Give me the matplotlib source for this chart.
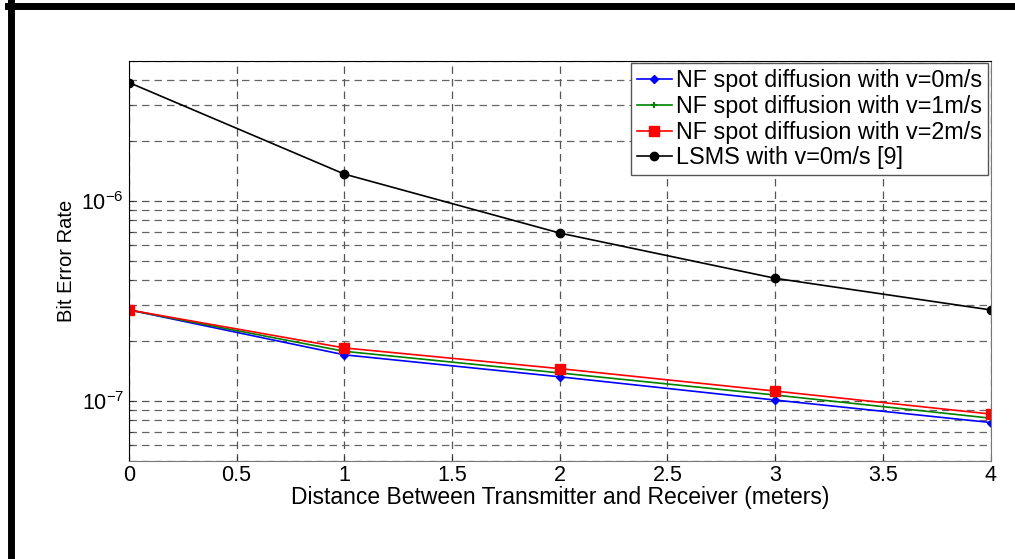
import numpy as np
import matplotlib.pyplot as plt
from matplotlib.lines import Line2D
from matplotlib.ticker import LogLocator, NullFormatter

plt.rcParams['font.family'] = ['Liberation Sans', 'DejaVu Sans']
plt.rcParams['axes.unicode_minus'] = False

# distance (meters)
distance = [0, 1, 2, 3, 4]

# bit error rates
ber_v0 = [2.85e-7, 1.70e-7, 1.32e-7, 1.01e-7, 7.8e-8]
ber_v1 = [2.85e-7, 1.77e-7, 1.38e-7, 1.07e-7, 8.2e-8]
ber_v2 = [2.85e-7, 1.84e-7, 1.45e-7, 1.12e-7, 8.6e-8]
ber_lsms = [3.9e-6, 1.36e-6, 6.9e-7, 4.1e-7, 2.85e-7]

labels = ['NF spot diffusion with v=0m/s',
          'NF spot diffusion with v=1m/s',
          'NF spot diffusion with v=2m/s',
          'LSMS with v=0m/s [9]']

fig = plt.figure(figsize=(10.15, 5.59), dpi=100)
ax = fig.add_axes([0.127, 0.175, 0.849, 0.716])

ax.semilogy(distance, ber_v0, color='#0000ff', marker='D', markersize=4, lw=1.2, label=labels[0])
ax.semilogy(distance, ber_v1, color='#008000', marker='+', markersize=5, mew=1.5, lw=1.2, label=labels[1])
ax.semilogy(distance, ber_v2, color='#ff0000', marker='s', markersize=6.5, lw=1.2, label=labels[2])
ax.semilogy(distance, ber_lsms, color='black', marker='o', markersize=6, lw=1.2, label=labels[3])

ax.set_xlim(0, 4)
ax.set_ylim(5e-8, 5e-6)
ax.set_xticks(np.arange(0, 4.01, 0.5))
ax.set_xticklabels(['0', '0.5', '1', '1.5', '2', '2.5', '3', '3.5', '4'])
ax.yaxis.set_major_locator(LogLocator(base=10, numticks=10))
ax.yaxis.set_minor_locator(LogLocator(base=10, subs=np.arange(2, 10), numticks=20))
ax.yaxis.set_minor_formatter(NullFormatter())

ax.grid(True, which='major', axis='both', ls=(0, (6, 4)), color='#555555', lw=0.9)
ax.grid(True, which='minor', axis='y', ls=(0, (6, 4)), color='#666666', lw=0.9)

ax.tick_params(axis='both', which='both', direction='in', labelsize=15.5, color='#333333')
ax.tick_params(axis='y', which='minor', length=3)
ax.tick_params(axis='x', pad=3)

ax.set_xlabel('Distance Between Transmitter and Receiver (meters)', fontsize=16.5, labelpad=0)
ax.set_ylabel('Bit Error Rate', fontsize=14.5, labelpad=4)

for side in ['right', 'bottom']:
    ax.spines[side].set_color('#777777')
ax.spines['left'].set_color('black')
ax.spines['top'].set_color('black')

leg = ax.legend(loc='upper right', fontsize=16.8, handlelength=1.5, handletextpad=0.2,
                labelspacing=0.12, borderpad=0.25, borderaxespad=0.1,
                fancybox=False, framealpha=1, edgecolor='#555555')
leg.get_frame().set_linewidth(1.0)

# black frame pieces along the top and left edge of the picture
fig.add_artist(Line2D([0.008, 1.0], [0.989, 0.989], color='black', lw=5, transform=fig.transFigure))
fig.add_artist(Line2D([0.011, 0.011], [0.0, 0.994], color='black', lw=5, transform=fig.transFigure))

fig.savefig('out.png', dpi=100)
